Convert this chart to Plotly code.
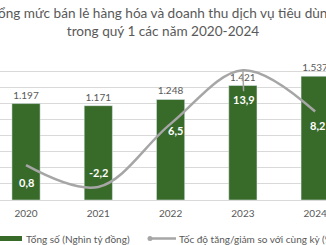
import plotly.graph_objects as go

years = ["2020", "2021", "2022", "2023", "2024"]
total = [1197, 1171, 1248, 1421, 1537]
growth = [0.8, -2.2, 6.5, 13.9, 8.2]
bar_name = "Tổng số (Nghìn tỷ đồng)"
line_name = "Tốc độ tăng/giảm so với cùng kỳ (%)"
title_text = "Tổng mức bán lẻ hàng hóa và doanh thu dịch vụ tiêu dùng<br>trong quý 1 các năm 2020-2024"

GREEN = "#386A29"
GREY_LINE = "#A6A6A6"
TXT = "#595959"
FONT = "Lato"
W, H = 326, 245
T, B = 55, 45
PH = H - T - B


def px(x):
    return x / W


def py(y):
    return (H - B - y) / PH


bar_text = [f"{v:,}".replace(",", ".") for v in total]
line_text = [f"{v}".replace(".", ",") for v in growth]

fig = go.Figure()
fig.add_trace(go.Bar(
    x=years, y=total, width=0.39, marker_color=GREEN, showlegend=False,
    name=bar_name,
    text=bar_text, textposition="outside", cliponaxis=False,
    textfont=dict(color=TXT, size=10, family=FONT),
))
fig.add_trace(go.Scatter(
    x=years, y=growth, yaxis="y2", mode="lines", name=line_name, showlegend=False,
    line=dict(color=GREY_LINE, width=2.5, shape="spline", smoothing=1.0),
))

# label offsets (style only)
shifts = [(0, -17), (0, 14), (5, -7), (1, -29), (2, -14)]
for i, (g, t) in enumerate(zip(growth, line_text)):
    xs, ys = shifts[i]
    if i == 3:
        fig.add_annotation(x=i, y=g, xref="x", yref="y2", text=f"<b>{t}</b>",
                           showarrow=True, arrowhead=0, arrowwidth=1.5,
                           arrowcolor=GREY_LINE, ax=xs, ay=-ys, standoff=0,
                           font=dict(color="white", size=11, family=FONT))
    else:
        fig.add_annotation(x=i, y=g, xref="x", yref="y2", text=f"<b>{t}</b>",
                           showarrow=False, xshift=xs, yshift=ys,
                           font=dict(color="white", size=11, family=FONT))

# manual legend (drawn as shapes + text so it can run off the edge like the reference)
fig.add_shape(type="rect", xref="paper", yref="paper",
              x0=px(-8), x1=px(22), y0=py(241), y1=py(236),
              fillcolor=GREEN, line_width=0, layer="above")
fig.add_shape(type="line", xref="paper", yref="paper",
              x0=px(149), x1=px(176), y0=py(238.5), y1=py(238.5),
              line=dict(color=GREY_LINE, width=2.5), layer="above")
fig.add_shape(type="circle", xref="paper", yref="paper",
              x0=px(147.5), x1=px(152.5), y0=py(241), y1=py(236),
              fillcolor=GREY_LINE, line_width=0, layer="above")
fig.add_annotation(x=px(23.5), y=py(238.5), xref="paper", yref="paper",
                   text=bar_name, showarrow=False, xanchor="left", yanchor="middle",
                   font=dict(size=10, color=TXT, family=FONT))
fig.add_annotation(x=px(177), y=py(238.5), xref="paper", yref="paper",
                   text=line_name, showarrow=False, xanchor="left", yanchor="middle",
                   font=dict(size=10, color=TXT, family=FONT))

fig.update_layout(
    width=W, height=H,
    margin=dict(l=0, r=0, t=T, b=B, autoexpand=False),
    paper_bgcolor="white", plot_bgcolor="white",
    title=dict(text=title_text, x=0.5, xanchor="center", y=0.925, yanchor="middle",
               font=dict(size=13.6, color=TXT, family=FONT)),
    font=dict(family=FONT, color=TXT),
    xaxis=dict(type="category", range=[-0.36, 4.15], showgrid=False,
               tickfont=dict(size=10, color=TXT), ticks="", showline=False,
               ticklabelstandoff=6),
    yaxis=dict(range=[0, 1800], dtick=200, showgrid=True, gridcolor="#D9D9D9",
               gridwidth=1, showticklabels=False, zeroline=True,
               zerolinecolor="#D9D9D9", zerolinewidth=1),
    yaxis2=dict(range=[-4, 16], overlaying="y", side="right", showgrid=False,
                showticklabels=False, zeroline=False),
    showlegend=False,
)

fig.write_html("out.html")
